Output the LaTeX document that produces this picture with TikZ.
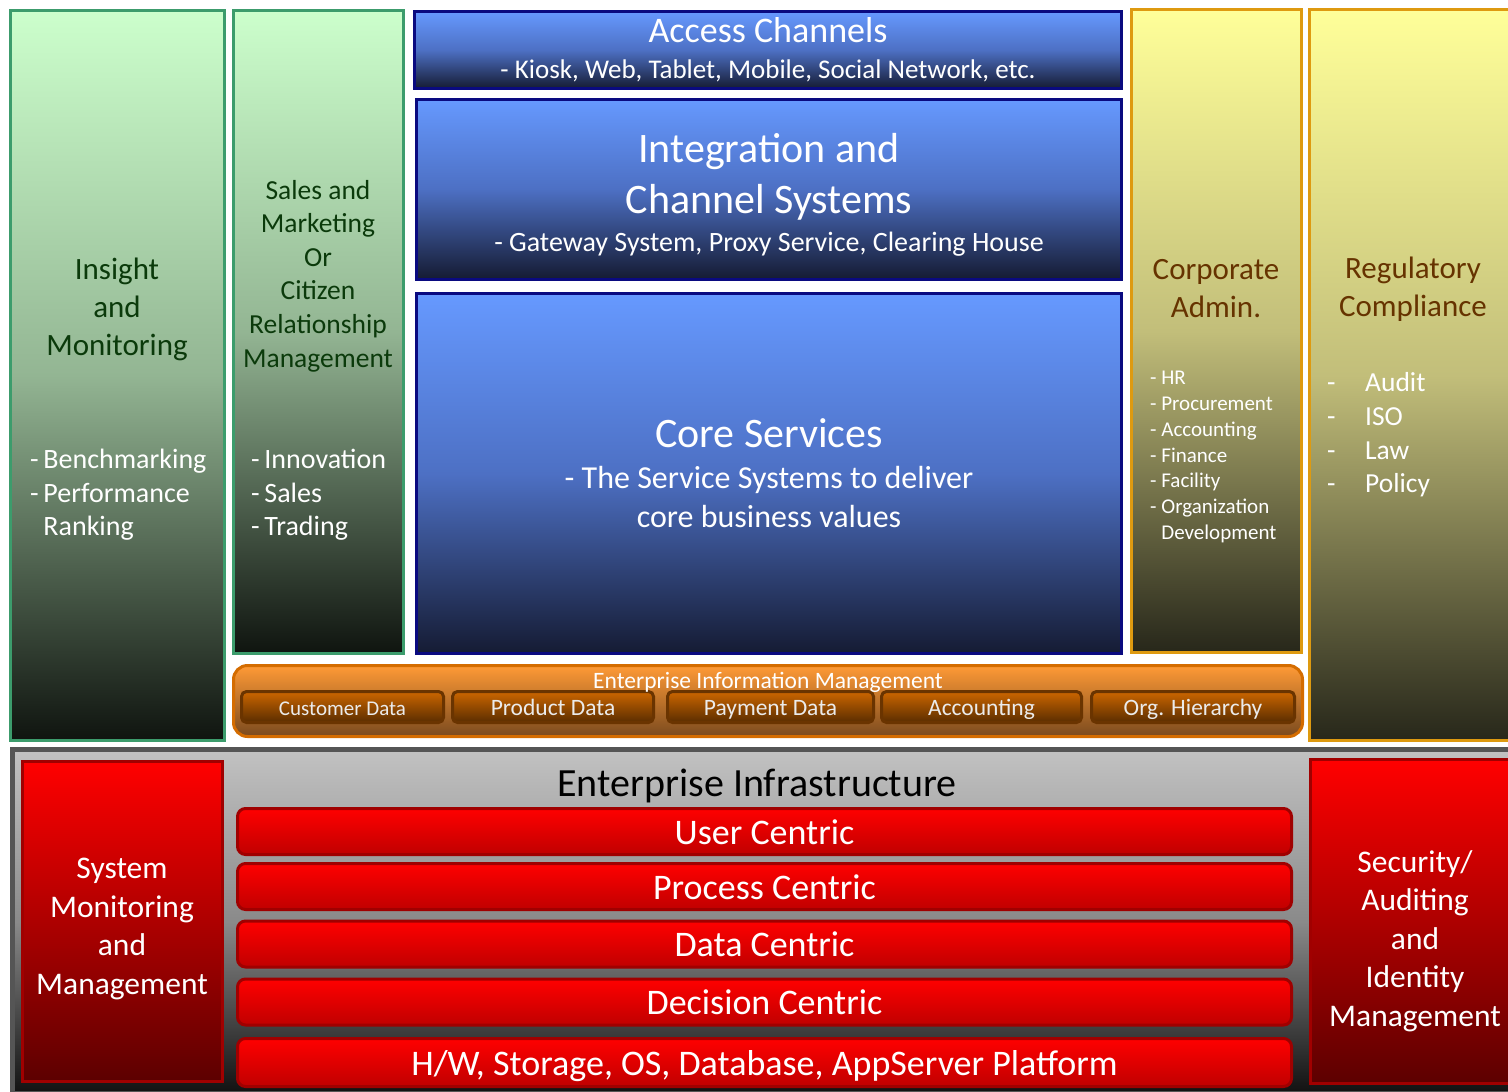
\documentclass[tikz,border=0pt]{standalone}
\usepackage{fontspec}
\setmainfont{Carlito}
\usepackage{xcolor}
\usepackage{tikz}
\usetikzlibrary{positioning}

\definecolor{grnline}{HTML}{3C9C6C}
\definecolor{grntop}{HTML}{CCFFCC}
\definecolor{grnmid}{HTML}{93B593}
\definecolor{grnbot}{HTML}{0F140F}
\definecolor{grntext}{HTML}{0B3A0B}
\definecolor{bluline}{HTML}{0A0A80}
\definecolor{blutop}{HTML}{6699FF}
\definecolor{blumid}{HTML}{4D70C4}
\definecolor{blubot}{HTML}{151B33}
\definecolor{ylwline}{HTML}{DE9A10}
\definecolor{ylwtop}{HTML}{FFFF99}
\definecolor{ylwmid}{HTML}{C2BE7A}
\definecolor{ylwbot}{HTML}{27271A}
\definecolor{ylwtext}{HTML}{663300}
\definecolor{orgline}{HTML}{D46C00}
\definecolor{orgtop}{HTML}{FF9A36}
\definecolor{orgbot}{HTML}{7A4A1E}
\definecolor{brnline}{HTML}{6A3400}
\definecolor{brntop}{HTML}{CC6600}
\definecolor{brnbot}{HTML}{5A2D00}
\definecolor{redline}{HTML}{A00000}
\definecolor{redtop}{HTML}{FF0000}
\definecolor{redbot}{HTML}{5C0000}
\definecolor{barbot}{HTML}{C00000}
\definecolor{gryline}{HTML}{555555}
\definecolor{grytop}{HTML}{C2C2C2}
\definecolor{grymid}{HTML}{8A8A8A}
\definecolor{grybot}{HTML}{111111}

\begin{document}
\begin{tikzpicture}[x=1pt, y=-1pt,
  fs/.style args={#1/#2}{font=\fontsize{#1}{#2}\selectfont},
  panel/.style={line width=3pt, inner sep=0pt, align=center, text=white},
  greenbox/.style={panel, draw=grnline, top color=grntop, bottom color=grnbot, middle color=grnmid},
  bluebox/.style={panel, draw=bluline, top color=blutop, bottom color=blubot, middle color=blumid},
  yellowbox/.style={panel, draw=ylwline, line width=3.5pt, top color=ylwtop, bottom color=ylwbot, middle color=ylwmid},
  redbox/.style={panel, draw=redline, top color=redtop, bottom color=redbot},
  bar/.style={panel, draw=redline, rounded corners=8pt, top color=redtop, bottom color=barbot,
    minimum width=1054pt, minimum height=46pt, fs=36/40, text height=27pt, text depth=2pt},
  datacell/.style={panel, draw=brnline, rounded corners=5pt, top color=brntop, bottom color=brnbot,
    minimum height=31pt, text=white!92!black, text height=17.5pt, text depth=0pt},
  txt/.style={inner sep=0pt, align=center}]
  \useasboundingbox[fill=white] (0,0) rectangle (1508,1092);

  % left columns
  \node[greenbox, minimum width=214pt, minimum height=730pt] (insight) at (117.5,375.5) {};
  \node[greenbox, minimum width=170pt, minimum height=643pt] (sales) at (318.5,332) {};
  \node[txt, fs=31/38, text=grntext] (insighttitle) at (117,309) {Insight\\and\\Monitoring};
  \node[txt, align=left, anchor=west, fs=28/33.5, text=white] (insightlist) at (30,495)
       {-\,Benchmarking\\-\,Performance\\\phantom{-\,}Ranking};
  \node[txt, fs=27.5/33.6, text=grntext] (salestitle) at (318,276)
       {Sales and\\Marketing\\Or\\Citizen\\Relationship\\Management};
  \node[txt, align=left, anchor=west, fs=28/33.5, text=white] (saleslist) at (251,495)
       {-\,Innovation\\-\,Sales\\-\,Trading};

  % centre stack
  \node[bluebox, minimum width=707pt, minimum height=77pt, fs=27/36] (access) at (768,50)
       {{\fontsize{36}{38}\selectfont Access Channels}\\- Kiosk, Web, Tablet, Mobile, Social Network, etc.};
  \node[bluebox, minimum width=705pt, minimum height=180pt] (integ) at (769,189) {};
  \node[txt, fs=28/42, text=white] (integtext) at (769,195)
       {{\fontsize{42}{51}\selectfont Integration and}\\[9pt]{\fontsize{42}{51}\selectfont Channel Systems}\\[-4pt]- Gateway System, Proxy Service, Clearing House};
  \node[bluebox, minimum width=705pt, minimum height=360pt, fs=32/39] (core) at (769,473.5)
       {{\fontsize{42}{44}\selectfont Core Services}\\[2pt]- The Service Systems to deliver\\core business values};

  % right columns
  \node[yellowbox, minimum width=170pt, minimum height=643pt] (corp) at (1216.5,331) {};
  \node[yellowbox, minimum width=205pt, minimum height=731pt] (reg) at (1412,375) {};
  \node[txt, fs=31/38, text=ylwtext] (corptitle) at (1216,289) {Corporate\\Admin.};
  \node[txt, align=left, anchor=west, fs=21/25.7, text=white] (corplist) at (1150,457)
       {- HR\\- Procurement\\- Accounting\\- Finance\\- Facility\\- Organization\\\phantom{- }Development};
  \node[txt, fs=31/38, text=ylwtext] (regtitle) at (1413,289) {Regulatory\\Compliance};
  \node[txt, align=left, anchor=west, fs=27.5/33.7, text=white] (reglist) at (1327,435)
       {\makebox[38pt][l]{-}Audit\\\makebox[38pt][l]{-}ISO\\\makebox[38pt][l]{-}Law\\\makebox[38pt][l]{-}Policy};

  % information management
  \node[panel, draw=orgline, rounded corners=14pt, top color=orgtop, bottom color=orgbot,
        minimum width=1069pt, minimum height=71pt] (eim) at (768,701) {};
  \foreach \nm/\cx/\bw/\fsz/\lbl in {cust/342.5/202/21/Customer Data, prod/553/201/23.5/Product Data,
      pay/770.5/206/23.5/Payment Data, acct/981.5/200/23.5/Accounting, org/1193/203/23.5/Org. Hierarchy}
    \node[datacell, minimum width=\bw pt, fs=\fsz/\fsz] (\nm) at (\cx,707) {\lbl};
  \node[txt, fs=23.5/26, text=white] (eimtitle) at (768,682) {Enterprise Information Management};

  % infrastructure
  \node[panel, draw=gryline, line width=5pt, top color=grytop, bottom color=grybot, middle color=grymid,
        minimum width=1501pt, minimum height=344pt] (infra) at (763,921.5) {};
  \node[txt, fs=40/44, text=black] (infratitle) at (757,786) {Enterprise Infrastructure};
  \node[redbox, minimum width=200pt, minimum height=320pt] (sysmon) at (122.5,921.5) {};
  \node[txt, fs=31.5/38.7, text=white] (sysmontitle) at (122,929)
       {System\\Monitoring\\and\\Management};
  \node[redbox, minimum width=204pt, minimum height=324pt] (secu) at (1412.5,921.5) {};
  \node[txt, fs=31.5/38.5, text=white] (secutitle) at (1415,941)
       {Security/\\Auditing\\and\\Identity\\Management};
  \foreach \nm/\cy/\lbl in {user/831.5/User Centric, proc/886.5/Process Centric,
      data/944/Data Centric, dec/1002/Decision Centric}
    \node[bar] (\nm) at (764.5,\cy) {\lbl};
  \node[bar, minimum height=48pt] (hw) at (764.5,1062.5) {H/W, Storage, OS, Database, AppServer Platform};
\end{tikzpicture}
\end{document}
